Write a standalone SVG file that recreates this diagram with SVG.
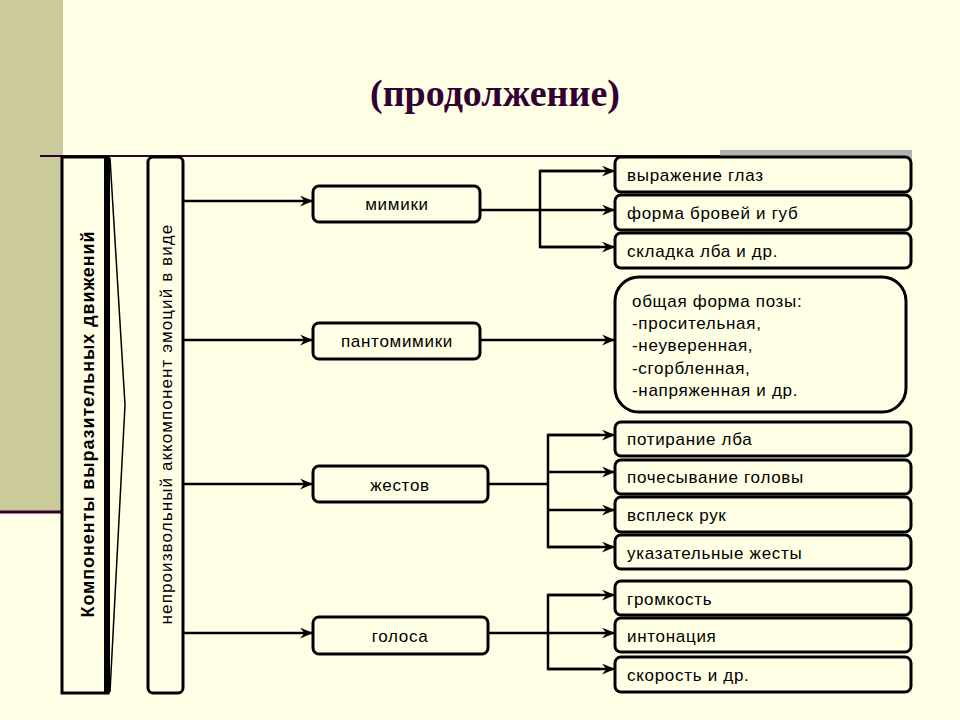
<svg xmlns="http://www.w3.org/2000/svg" width="960" height="720" viewBox="0 0 960 720">
<defs>
<style>
.bx{fill:#FFFFE5;stroke:#000;stroke-width:3}
.t{font-family:"Liberation Sans",Arial,sans-serif;font-size:17px;letter-spacing:0.7px;fill:#000}
.c{text-anchor:middle}
.ln{fill:none;stroke:#000;stroke-width:2.5}
</style>
<marker id="ar" viewBox="0 0 12 10" refX="12" refY="5" markerWidth="13" markerHeight="11" markerUnits="userSpaceOnUse" orient="auto">
<path d="M0,0 L12,5 L0,10 L4,5 z" fill="#000"/>
</marker>
</defs>
<rect width="960" height="720" fill="#FFFFE5"/>
<rect x="0" y="0" width="63" height="512" fill="#CBCA9A"/>
<line x1="0" y1="512" x2="63" y2="512" stroke="#330033" stroke-width="3"/>
<line x1="40" y1="156" x2="912" y2="156" stroke="#330033" stroke-width="2"/>
<rect x="720" y="150" width="192" height="17" fill="#B2B2B2"/>
<text x="495" y="106" text-anchor="middle" font-family="Liberation Serif,'Times New Roman',serif" font-weight="bold" font-size="38" fill="#330033">(продолжение)</text>

<g id="components">
<rect class="bx" x="62" y="157" width="46" height="536"/>
<rect x="104" y="157" width="6" height="536" fill="#000"/>
<polyline points="110,158 125,405 110,692" fill="none" stroke="#000" stroke-width="1.5"/>
<text class="t c" transform="translate(94,424) rotate(-90)" font-weight="bold" style="font-size:18px;letter-spacing:0.9px">Компоненты выразительных движений</text>
</g>
<g id="accomp">
<rect class="bx" x="148" y="157" width="35" height="536" rx="5"/>
<text class="t c" transform="translate(172,424) rotate(-90)" style="font-size:17px;letter-spacing:1.1px">непроизвольный аккомпонент эмоций в виде</text>
</g>

<g id="connectors">
<line class="ln" x1="183" y1="201" x2="313" y2="201" marker-end="url(#ar)"/>
<line class="ln" x1="183" y1="340" x2="313" y2="340" marker-end="url(#ar)"/>
<line class="ln" x1="183" y1="484" x2="313" y2="484" marker-end="url(#ar)"/>
<line class="ln" x1="183" y1="633" x2="313" y2="633" marker-end="url(#ar)"/>
<line class="ln" x1="480" y1="210" x2="615" y2="210" marker-end="url(#ar)"/>
<polyline class="ln" points="600,171 540,171 540,247 600,247"/>
<line class="ln" x1="540" y1="171" x2="615" y2="171" marker-end="url(#ar)"/>
<line class="ln" x1="540" y1="247" x2="615" y2="247" marker-end="url(#ar)"/>
<line class="ln" x1="480" y1="340" x2="615" y2="340" marker-end="url(#ar)"/>
<line class="ln" x1="488" y1="484" x2="548" y2="484"/>
<polyline class="ln" points="600,435 548,435 548,547 600,547"/>
<line class="ln" x1="548" y1="435" x2="615" y2="435" marker-end="url(#ar)"/>
<line class="ln" x1="548" y1="472" x2="615" y2="472" marker-end="url(#ar)"/>
<line class="ln" x1="548" y1="510" x2="615" y2="510" marker-end="url(#ar)"/>
<line class="ln" x1="548" y1="547" x2="615" y2="547" marker-end="url(#ar)"/>
<line class="ln" x1="488" y1="633" x2="615" y2="633" marker-end="url(#ar)"/>
<polyline class="ln" points="600,595 548,595 548,669 600,669"/>
<line class="ln" x1="548" y1="595" x2="615" y2="595" marker-end="url(#ar)"/>
<line class="ln" x1="548" y1="669" x2="615" y2="669" marker-end="url(#ar)"/>
</g>

<g id="mimiki"><rect class="bx" x="313" y="186" width="167" height="36" rx="6"/><text class="t c" x="397" y="210">мимики</text></g>
<g id="pantomimiki"><rect class="bx" x="313" y="323" width="167" height="36" rx="6"/><text class="t c" x="397" y="347">пантомимики</text></g>
<g id="zhestov"><rect class="bx" x="313" y="466" width="175" height="36" rx="6"/><text class="t c" x="400" y="491">жестов</text></g>
<g id="golosa"><rect class="bx" x="313" y="617" width="175" height="37" rx="6"/><text class="t c" x="400" y="642">голоса</text></g>

<g id="r1"><rect class="bx" x="615" y="157" width="296" height="35" rx="6"/><text class="t" x="627" y="181">выражение глаз</text></g>
<g id="r2"><rect class="bx" x="615" y="195" width="296" height="35" rx="6"/><text class="t" x="627" y="219">форма бровей и губ</text></g>
<g id="r3"><rect class="bx" x="615" y="233" width="296" height="35" rx="6"/><text class="t" x="627" y="257">складка лба и др.</text></g>
<g id="poza">
<rect class="bx" x="615" y="277" width="291" height="135" rx="24"/>
<text class="t" x="632" y="307">общая форма позы:</text>
<text class="t" x="632" y="329">-просительная,</text>
<text class="t" x="632" y="351">-неуверенная,</text>
<text class="t" x="632" y="374">-сгорбленная,</text>
<text class="t" x="632" y="396">-напряженная и др.</text>
</g>
<g id="r4"><rect class="bx" x="615" y="422" width="296" height="34" rx="6"/><text class="t" x="627" y="445">потирание лба</text></g>
<g id="r5"><rect class="bx" x="615" y="460" width="296" height="34" rx="6"/><text class="t" x="627" y="483">почесывание головы</text></g>
<g id="r6"><rect class="bx" x="615" y="497" width="296" height="35" rx="6"/><text class="t" x="627" y="521">всплеск рук</text></g>
<g id="r7"><rect class="bx" x="615" y="535" width="296" height="34" rx="6"/><text class="t" x="627" y="559">указательные жесты</text></g>
<g id="r8"><rect class="bx" x="615" y="581" width="296" height="34" rx="6"/><text class="t" x="627" y="605">громкость</text></g>
<g id="r9"><rect class="bx" x="615" y="618" width="296" height="34" rx="6"/><text class="t" x="627" y="642">интонация</text></g>
<g id="r10"><rect class="bx" x="615" y="657" width="296" height="35" rx="6"/><text class="t" x="627" y="681">скорость и др.</text></g>
</svg>
